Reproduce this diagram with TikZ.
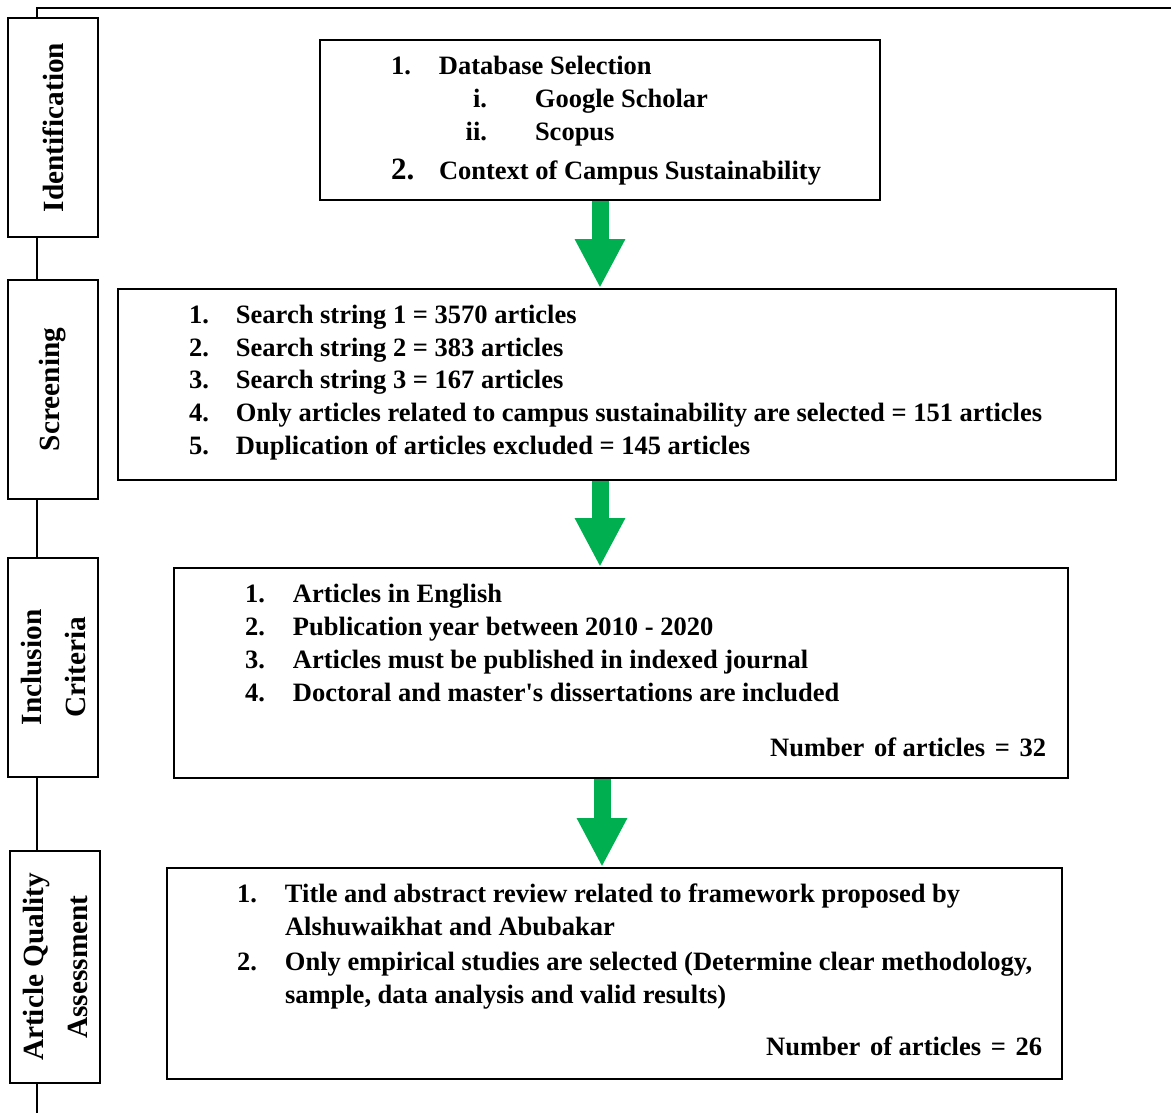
\documentclass[tikz,border=0pt]{standalone}
\usepackage{fontspec}
\setmainfont{Liberation Serif}
\usetikzlibrary{arrows.meta}
\definecolor{arrowgreen}{HTML}{00B050}
\newcommand{\itemfont}{\fontsize{26.5}{33}\selectfont\bfseries}
\newcommand{\stagefont}{\fontsize{29.3}{44}\selectfont\bfseries}

\begin{document}
\begin{tikzpicture}[x=1pt,y=-1pt,line width=2pt,
	stagebox/.style={draw,rotate=90,align=center,minimum height=90pt,font=\stagefont},
	listbox/.style={draw,minimum width=#1},
	itemlist/.style={anchor=base west,inner sep=0pt,font=\itemfont},
	countlabel/.style={anchor=base east,inner sep=0pt,font=\itemfont},
	flowarrow/.style={arrowgreen,line width=17pt,-{Triangle[width=47pt,length=49pt]}}]
	\useasboundingbox (0,0) rectangle (1171,1113);
	% stages on the left
	\coordinate (spine) at (37,8);
	\coordinate (spineend) at (1171,8);
	\coordinate (spinebottom) at (37,1113);
	\node[stagebox,minimum width=219pt] (ident) at (53,127.5) {Identification};
	\node[stagebox,minimum width=219pt] (screen) at (53,389.5) {Screening};
	\node[stagebox,minimum width=219pt] (incl) at (53,667.5) {Inclusion\\Criteria};
	\node[stagebox,minimum width=232pt] (quality) at (55,967) {Article Quality\\Assessment};
	\draw (spineend) -- (spine) -- (ident.east -| spine);
	\draw (ident.west -| spine) -- (screen.east -| spine);
	\draw (screen.west -| spine) -- (incl.east -| spine);
	\draw (incl.west -| spine) -- (quality.east -| spine);
	\draw (quality.west -| spine) -- (spinebottom);
	% boxes
	\node[listbox=560pt,minimum height=160pt] (box1) at (600,120) {};
	\node[listbox=998pt,minimum height=191pt] (box2) at (617,384.5) {};
	\node[listbox=894pt,minimum height=210pt] (box3) at (621,673) {};
	\node[listbox=895pt,minimum height=211pt] (box4) at (614.5,973.5) {};
	\node[itemlist] (list1) at (390,75) {\begin{tabular}[t]{@{}p{48pt}@{}l@{}}
		1. & Database Selection\\
		& \makebox[48pt][r]{i.}\hspace{48pt}Google Scholar\\
		& \makebox[48pt][r]{ii.}\hspace{48pt}Scopus\\[6pt]
		{\fontsize{31}{33}\selectfont 2.} & Context of Campus Sustainability
	\end{tabular}};
	\node[itemlist] (list2) at (188,323) {\begin{tabular}[t]{@{}p{47pt}@{}l@{}}
		1. & Search string 1 = 3570 articles\\
		2. & Search string 2 = 383 articles\\
		3. & Search string 3 = 167 articles\\
		4. & Only articles related to campus sustainability are selected = 151 articles\\
		5. & Duplication of articles excluded = 145 articles
	\end{tabular}};
	\node[itemlist] (list3) at (244,602) {\begin{tabular}[t]{@{}p{48pt}@{}l@{}}
		1. & Articles in English\\
		2. & Publication year between 2010 - 2020\\
		3. & Articles must be published in indexed journal\\
		4. & Doctoral and master\textquotesingle s dissertations are included
	\end{tabular}};
	\node[countlabel] (count3) at (1047,756) {Number\hspace{3pt} of articles\hspace{3pt} =\hspace{3pt} 32};
	\node[itemlist] (list4) at (236,902) {\begin{tabular}[t]{@{}p{48pt}@{}l@{}}
		1. & Title and abstract review related to framework proposed by\\
		& Alshuwaikhat and Abubakar\\[2pt]
		2. & Only empirical studies are selected (Determine clear methodology,\\
		& sample, data analysis and valid results)
	\end{tabular}};
	\node[countlabel] (count4) at (1043,1055) {Number\hspace{3pt} of articles\hspace{3pt} =\hspace{3pt} 26};
	% arrows
	\draw[flowarrow] (box1.south) -- (box1.south |- box2.north);
	\draw[flowarrow] (box1.south |- box2.south) -- (box1.south |- box3.north);
	\draw[flowarrow] ([xshift=2pt]box1.south |- box3.south) -- ([xshift=2pt]box1.south |- box4.north);
\end{tikzpicture}
\end{document}
